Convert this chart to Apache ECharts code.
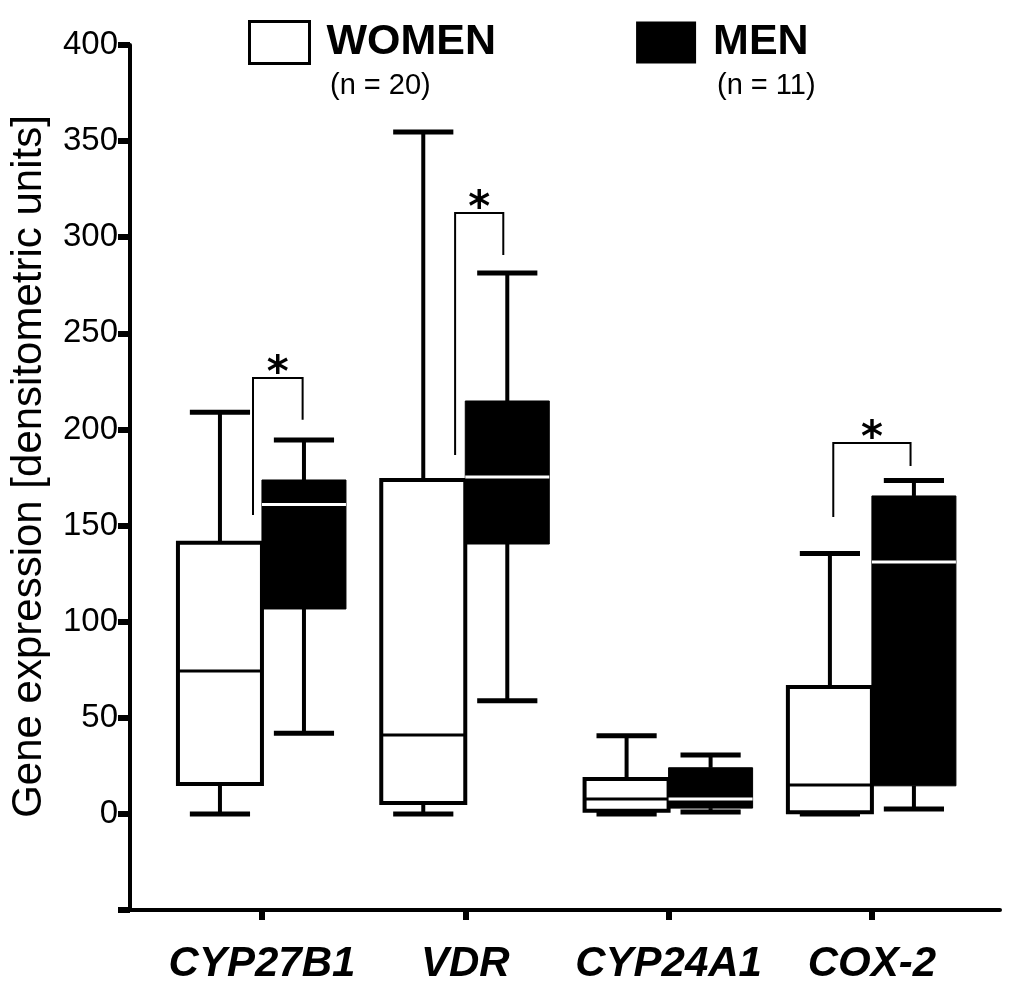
<!DOCTYPE html>
<html>
<head>
<meta charset="utf-8">
<script src="https://cdn.jsdelivr.net/npm/echarts@6/dist/echarts.min.js"></script>
<style>
  html, body { margin: 0; padding: 0; background: #fff; }
  #chart { width: 1024px; height: 1002px; }
</style>
</head>
<body>
<div id="chart"></div>
<script>
// ---------- data ----------
const categories = ['CYP27B1', 'VDR', 'CYP24A1', 'COX-2'];
const groupNames = ['WOMEN', 'MEN'];
const groupN = [20, 11];

const womenMin    = [0,     0,     0,    0];
const womenQ1     = [15.6,  5.7,   1.6,  0.8];
const womenMedian = [74.4,  41,    7.8,  15];
const womenQ3     = [141,   173.7, 18.2, 66];
const womenMax    = [209,   354.7, 40.6, 135.5];

const menMin      = [42,    58.8,  1,    2.6];
const menQ1       = [106.6, 140.4, 3,    14.6];
const menMedian   = [161,   175.3, 7.8,  131];
const menQ3       = [173.7, 214.8, 24,   165.4];
const menMax      = [194.5, 281.4, 30.7, 173.5];

// significance brackets
const sigCategory = [0, 1, 3];
const sigLeftEnd  = [155.5, 186.7, 154.5];
const sigTop      = [226.8, 312.6, 193];
const sigRightEnd = [205,   290.8, 181];
const sigMark = '*';

const yTicks = [0, 50, 100, 150, 200, 250, 300, 350, 400];

// ---------- layout constants (not data) ----------
const BOX_OFFSET = 0.2066;   // fraction of category spacing
const BOX_HALF = 0.2066;
const CAP_HALF = 0.148;
const bracketOffsets = [[-0.044, 0.2], [-0.05, 0.187], [-0.19, 0.19]];

function buildRows(mins, q1, med, q3, maxs) {
  return categories.map((c, i) => [i, mins[i], q1[i], med[i], q3[i], maxs[i]]);
}
const womenRows = buildRows(womenMin, womenQ1, womenMedian, womenQ3, womenMax);
const menRows = buildRows(menMin, menQ1, menMedian, menQ3, menMax);
const sigRows = sigCategory.map((c, i) => [c, sigLeftEnd[i], sigTop[i], sigRightEnd[i], i]);

function boxRenderer(side, fill, stroke, strokeW, medianColor) {
  return function (params, api) {
    const cx = api.value(0) + side * BOX_OFFSET;
    const pMin = api.coord([cx, api.value(1)]);
    const pQ1 = api.coord([cx, api.value(2)]);
    const pMed = api.coord([cx, api.value(3)]);
    const pQ3 = api.coord([cx, api.value(4)]);
    const pMax = api.coord([cx, api.value(5)]);
    const band = api.size([1, 0])[0];
    const hw = band * BOX_HALF;
    const cw = band * CAP_HALF;
    const x = pMed[0];
    const lineStyle = { stroke: '#000', lineWidth: 4 };
    return {
      type: 'group',
      children: [
        { type: 'line', shape: { x1: x, y1: pQ3[1], x2: x, y2: pMax[1] }, style: lineStyle },
        { type: 'line', shape: { x1: x, y1: pQ1[1], x2: x, y2: pMin[1] }, style: lineStyle },
        { type: 'line', shape: { x1: x - cw, y1: pMax[1], x2: x + cw, y2: pMax[1] }, style: { stroke: '#000', lineWidth: 5 } },
        { type: 'line', shape: { x1: x - cw, y1: pMin[1], x2: x + cw, y2: pMin[1] }, style: { stroke: '#000', lineWidth: 5 } },
        { type: 'rect', shape: { x: x - hw, y: pQ3[1], width: 2 * hw, height: pQ1[1] - pQ3[1] },
          style: { fill: fill, stroke: stroke, lineWidth: strokeW } },
        { type: 'line', shape: { x1: x - hw, y1: pMed[1], x2: x + hw, y2: pMed[1] },
          style: { stroke: medianColor, lineWidth: 3 } }
      ]
    };
  };
}

function bracketRenderer(params, api) {
  const c = api.value(0);
  const idx = api.value(4);
  const off = bracketOffsets[idx];
  const pL = api.coord([c + off[0], api.value(1)]);
  const pT = api.coord([c + off[0], api.value(2)]);
  const pR = api.coord([c + off[1], api.value(3)]);
  const pTR = api.coord([c + off[1], api.value(2)]);
  const midX = (pL[0] + pR[0]) / 2;
  return {
    type: 'group',
    children: [
      { type: 'polyline', shape: { points: [[pL[0], pL[1]], [pT[0], pT[1]], [pTR[0], pTR[1]], [pR[0], pR[1]]] },
        style: { stroke: '#000', lineWidth: 2, fill: null } },
      { type: 'text', x: midX, y: pT[1] + 18,
        style: { text: sigMark, fill: '#000', font: 'bold 42px "DejaVu Sans"', align: 'center', verticalAlign: 'bottom' } }
    ]
  };
}

const chart = echarts.init(document.getElementById('chart'), null, { renderer: 'canvas' });

const option = {
  backgroundColor: '#fff',
  animation: false,
  grid: { left: 130, right: 24, top: 45, bottom: 92, containLabel: false },
  legend: {
    left: 243, top: 15,
    itemWidth: 60, itemHeight: 42, itemGap: 140,
    selectedMode: false,
    icon: 'rect',
    textStyle: { fontFamily: 'Liberation Sans', fontWeight: 'bold', fontSize: 43, color: '#000', padding: [0, 0, 0, 12] },
    data: [
      { name: groupNames[0], icon: 'rect', itemStyle: { color: '#fff', borderColor: '#000', borderWidth: 3 } },
      { name: groupNames[1], icon: 'rect', itemStyle: { color: '#000', borderColor: '#000', borderWidth: 0 } }
    ]
  },
  graphic: [
    { type: 'text', left: 330, top: 71, style: { text: '(n = ' + groupN[0] + ')', font: '29px "Liberation Sans"', fill: '#000' } },
    { type: 'text', left: 717, top: 71, style: { text: '(n = ' + groupN[1] + ')', font: '29px "Liberation Sans"', fill: '#000' } }
  ],
  xAxis: {
    type: 'value',
    min: -0.649, max: 3.63,
    splitLine: { show: false },
    axisLine: { show: true, onZero: false, lineStyle: { color: '#000', width: 4 } },
    axisTick: { show: true, customValues: [0, 1, 2, 3], length: 10, lineStyle: { color: '#000', width: 6 } },
    axisLabel: {
      show: true, customValues: [0, 1, 2, 3], margin: 33,
      formatter: v => categories[Math.round(v)],
      fontFamily: 'Liberation Sans', fontWeight: 'bold', fontStyle: 'italic', fontSize: 42, color: '#000'
    }
  },
  yAxis: {
    type: 'value',
    min: -50, max: 400, interval: 50,
    name: 'Gene expression [densitometric units]',
    nameLocation: 'middle', nameRotate: 90, nameGap: 80,
    nameTextStyle: { fontFamily: 'Liberation Sans', fontSize: 42, color: '#000', padding: [0, 0, 0, 22] },
    splitLine: { show: false },
    axisLine: { show: true, onZero: false, lineStyle: { color: '#000', width: 4 } },
    axisTick: { show: true, length: 12, lineStyle: { color: '#000', width: 6 } },
    axisLabel: {
      show: true, margin: 12, customValues: yTicks,
      fontFamily: 'Liberation Sans', fontSize: 33, color: '#000'
    }
  },
  series: [
    {
      name: groupNames[0], type: 'custom',
      itemStyle: { color: '#fff', borderColor: '#000', borderWidth: 3 },
      encode: { x: 0, y: [1, 2, 3, 4, 5] },
      renderItem: boxRenderer(-1, '#fff', '#000', 4, '#000'),
      data: womenRows, clip: false, z: 2
    },
    {
      name: groupNames[1], type: 'custom',
      itemStyle: { color: '#000' },
      encode: { x: 0, y: [1, 2, 3, 4, 5] },
      renderItem: boxRenderer(1, '#000', '#000', 1, '#fff'),
      data: menRows, clip: false, z: 3
    },
    {
      name: 'significance', type: 'custom',
      encode: { x: 0, y: [1, 2, 3] },
      renderItem: bracketRenderer,
      data: sigRows, clip: false, z: 4
    }
  ]
};
chart.setOption(option);
</script>
</body>
</html>
